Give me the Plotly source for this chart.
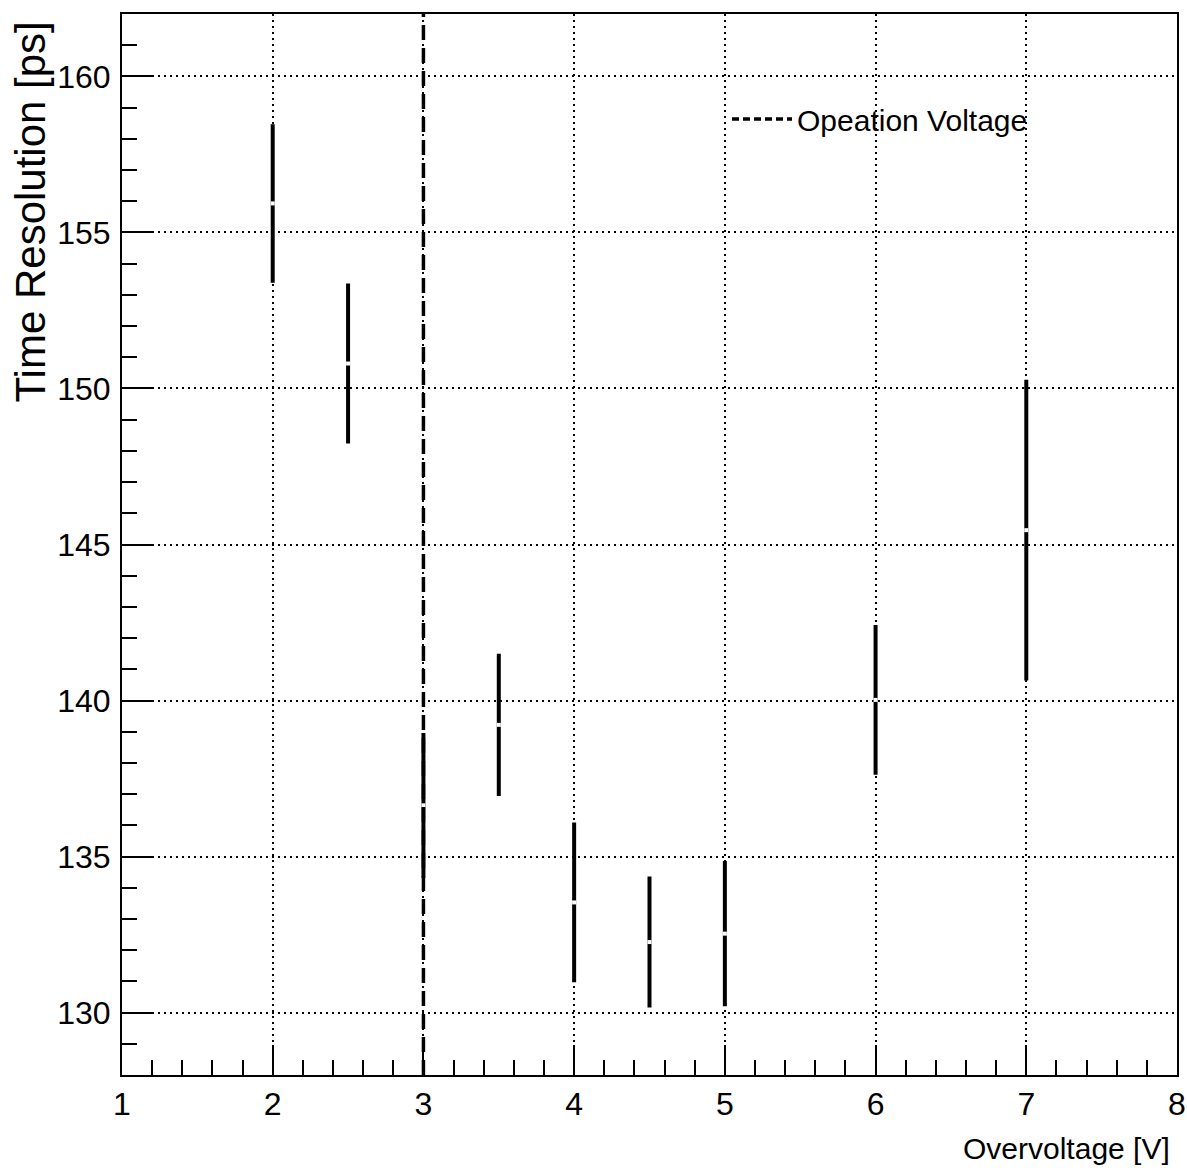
import plotly.graph_objects as go

# ---- data ----
overvoltage = [2.0, 2.5, 3.0, 3.5, 4.0, 4.5, 5.0, 6.0, 7.0]
time_resolution = [155.93, 150.80, 136.64, 139.22, 133.53, 132.26, 132.53, 140.02, 145.46]
time_resolution_err = [2.54, 2.56, 2.32, 2.28, 2.56, 2.10, 2.33, 2.40, 4.82]
operation_voltage = 3.0
legend_label = "Opeation Voltage"
x_range = [1, 8]
y_range = [128, 162]

W, H = 1187, 1172
L, R, T, B = 122, 10, 14, 97
pw, ph = W - L - R, H - T - B

narrow = "Liberation Sans Narrow, Arial Narrow, Liberation Sans, Arial"
regular = "Liberation Sans, Arial, Helvetica"

fig = go.Figure()

# data points with error bars (white marker creates the small gap ROOT leaves)
fig.add_trace(go.Scatter(
    x=overvoltage, y=time_resolution,
    mode="markers",
    marker=dict(symbol="square", size=4, color="white", line=dict(width=0)),
    error_y=dict(type="data", array=time_resolution_err, visible=True,
                 color="black", thickness=4, width=0),
    showlegend=False, hoverinfo="x+y",
))

# operation voltage dashed line
fig.add_trace(go.Scatter(
    x=[operation_voltage, operation_voltage], y=y_range,
    mode="lines", line=dict(color="black", width=3.5, dash="15px,8px"),
    showlegend=False, hoverinfo="skip",
))
# legend entry
fig.add_trace(go.Scatter(
    x=[None], y=[None], mode="lines", name=legend_label,
    line=dict(color="black", width=3.5, dash="7px,4px"),
))

axis_common = dict(
    showline=True, linecolor="black", linewidth=2, mirror=True,
    ticks="inside", tickcolor="black", tickwidth=2, ticklen=30,
    showgrid=True, gridcolor="black", gridwidth=2, griddash="2px,4px",
    zeroline=False, automargin=False,
    tickfont=dict(family=narrow, size=32, color="black"),
)

fig.update_layout(
    width=W, height=H,
    margin=dict(l=L, r=R, t=T, b=B),
    paper_bgcolor="white", plot_bgcolor="white",
    xaxis=dict(range=x_range, dtick=1, tick0=1,
               minor=dict(dtick=0.2, ticks="inside", ticklen=15, tickwidth=2,
                          tickcolor="black", showgrid=False),
               ticklabelstandoff=0,
               **axis_common),
    yaxis=dict(range=y_range, dtick=5, tick0=130,
               minor=dict(dtick=1, ticks="inside", ticklen=15, tickwidth=2,
                          tickcolor="black", showgrid=False),
               ticklabelstandoff=3,
               **axis_common),
    legend=dict(x=(727 - L) / pw, y=1 - (119 - T) / ph, xanchor="left", yanchor="middle",
                bgcolor="rgba(0,0,0,0)", borderwidth=0, itemwidth=60,
                font=dict(family=narrow, size=30, color="black")),
    annotations=[
        dict(text="Overvoltage [V]", xref="paper", yref="paper",
             x=(1172 - L) / pw, y=-(1148 - (H - B)) / ph,
             xanchor="right", yanchor="middle", showarrow=False,
             font=dict(family=narrow, size=30, color="black")),
        dict(text="Time Resolution [ps]", xref="paper", yref="paper",
             x=-(L - 30) / pw, y=1 - (20 - T) / ph, textangle=-90,
             xanchor="center", yanchor="top", showarrow=False,
             font=dict(family=regular, size=42, color="black")),
    ],
)

fig.write_html("out.html")
